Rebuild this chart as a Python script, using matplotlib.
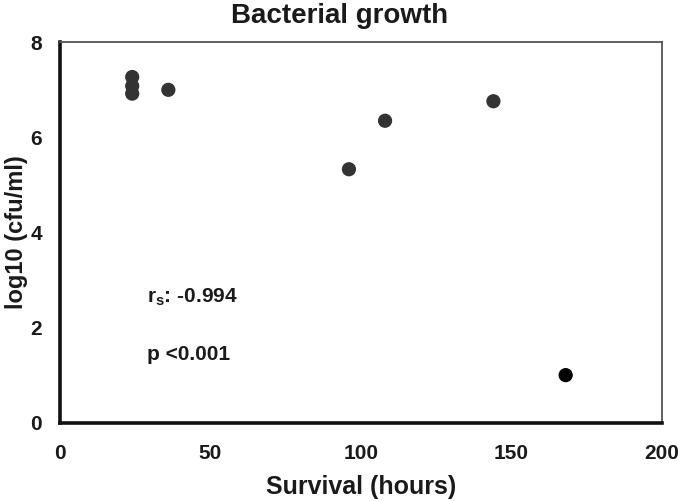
import matplotlib
matplotlib.use("Agg")
import matplotlib.pyplot as plt

# survival (hours) vs bacterial load
survival_hours = [24, 24, 24, 36, 96, 108, 144, 168]
log_cfu = [7.27, 7.08, 6.92, 7.0, 5.33, 6.35, 6.76, 1.0]
point_colors = ["#333333"] * 7 + ["#000000"]

x_ticks = [0, 50, 100, 150, 200]
y_ticks = [0, 2, 4, 6, 8]

plt.rcParams["font.family"] = ["Liberation Sans", "DejaVu Sans"]
plt.rcParams["font.weight"] = "bold"
plt.rcParams["mathtext.fontset"] = "custom"
plt.rcParams["mathtext.bf"] = "Liberation Sans:bold"
plt.rcParams["mathtext.rm"] = "Liberation Sans:bold"
plt.rcParams["mathtext.default"] = "bf"

fig = plt.figure(figsize=(6.8, 5.01), dpi=100)
ax = fig.add_axes([0.0882, 0.1563, 0.8853, 0.7593])

ax.scatter(survival_hours, log_cfu, s=85, c=point_colors, zorder=3)

ax.set_xlim(0, 200)
ax.set_ylim(0, 8)
ax.set_xticks(x_ticks)
ax.set_yticks(y_ticks)
ax.tick_params(length=0, labelsize=15, colors="#1a1a1a")
ax.tick_params(axis="x", pad=15)
ax.tick_params(axis="y", pad=13)
for lbl in ax.get_xticklabels() + ax.get_yticklabels():
    lbl.set_fontweight("bold")

ax.spines["left"].set_linewidth(2.6)
ax.spines["bottom"].set_linewidth(2.6)
ax.spines["left"].set_color("#111111")
ax.spines["bottom"].set_color("#111111")
ax.spines["top"].set_linewidth(1.3)
ax.spines["right"].set_linewidth(1.3)
ax.spines["top"].set_color("#555555")
ax.spines["right"].set_color("#555555")

# title is centred on the figure, not the axes
fig.text(0.5, 0.954, "Bacterial growth", fontsize=20, fontweight="bold",
         ha="center", va="baseline", color="#1a1a1a")
ax.set_xlabel("Survival (hours)", fontsize=18, fontweight="bold", labelpad=9, color="#1a1a1a")
ax.set_ylabel("log10 (cfu/ml)", fontsize=17, fontweight="bold", labelpad=2, color="#1a1a1a")

ax.text(29, 2.64, r"r$_\mathbf{s}$: -0.994", fontsize=15, fontweight="bold",
        va="center", ha="left", color="#1a1a1a")
ax.text(29, 1.44, "p <0.001", fontsize=15, fontweight="bold",
        va="center", ha="left", color="#1a1a1a")

fig.savefig("out.png", dpi=100)
